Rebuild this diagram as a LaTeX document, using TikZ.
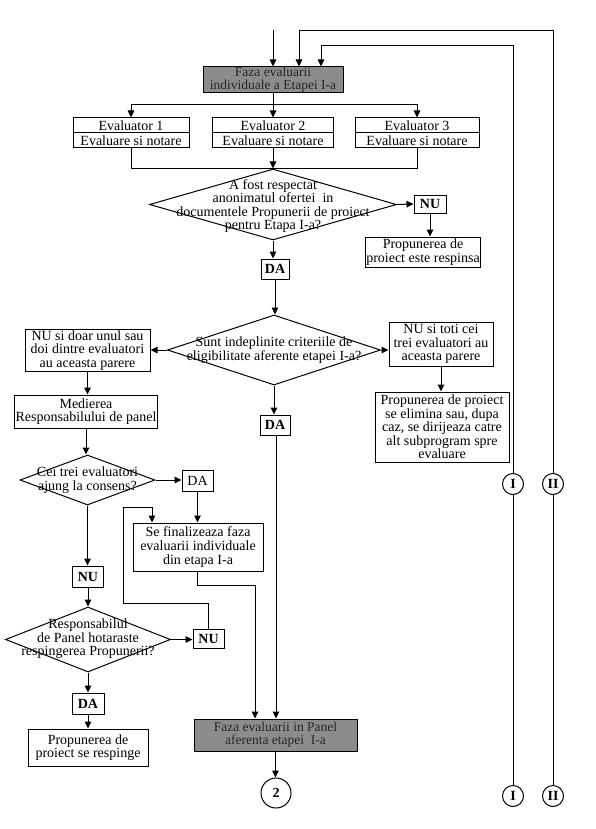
\documentclass[tikz,border=0pt]{standalone}
\usepackage{fontspec}
\setmainfont{Liberation Serif}
\usetikzlibrary{shapes.geometric,arrows.meta}
\newcommand\myfs{\fontsize{14}{13.6}\selectfont}
\tikzset{
  box/.style={draw, line width=1pt, inner sep=1pt, align=center, font=\myfs},
  yn/.style={box, font=\myfs\bfseries},
  gbox/.style={box, fill=black!45, text=black!85, inner sep=0pt, font=\fontsize{13.5}{13}\selectfont},
  dia/.style={draw, diamond, inner sep=0pt, line width=1pt},
  dtext/.style={align=center, font=\myfs, inner sep=0pt},
  circ/.style={draw, circle, line width=1pt, font=\myfs\bfseries, inner sep=0pt},
  arr/.style={-{Triangle[length=7pt,width=6.5pt]}, line width=1pt},
  ln/.style={line width=1pt}
}
\begin{document}
\begin{tikzpicture}[x=1pt,y=-1pt]
\useasboundingbox (0,0) rectangle (595,829);
% top
\coordinate (t0) at (273,30);
\node[gbox, minimum width=140pt, minimum height=26pt] (f1) at (273,80) {Faza evaluarii\\individuale a Etapei I-a};
% evaluators
\node[box, minimum width=116pt, minimum height=15pt, inner sep=0pt] (e1a) at (131,125.5) {Evaluator 1};
\node[box, minimum width=116pt, minimum height=15pt, inner sep=0pt] (e1b) at (131,140.5) {Evaluare si notare};
\node[box, minimum width=121pt, minimum height=15pt, inner sep=0pt] (e2a) at (273,125.5) {Evaluator 2};
\node[box, minimum width=121pt, minimum height=15pt, inner sep=0pt] (e2b) at (273,140.5) {Evaluare si notare};
\node[box, minimum width=124pt, minimum height=15pt, inner sep=0pt] (e3a) at (417,125.5) {Evaluator 3};
\node[box, minimum width=124pt, minimum height=15pt, inner sep=0pt] (e3b) at (417,140.5) {Evaluare si notare};
% decision 1
\node[dia, minimum width=247pt, minimum height=71pt] (d1) at (273,204.5) {};
\node[dtext] (d1t) at (273,206) {A fost respectat\\anonimatul ofertei\ \ in\\documentele Propunerii de proiect\\pentru Etapa I-a?};
\node[yn, minimum width=32pt, minimum height=18pt] (nu1) at (430,204) {NU};
\node[box, minimum width=110pt, minimum height=30pt] (r1) at (423,252) {Propunerea de\\proiect este respinsa};
\node[yn, minimum width=28pt, minimum height=20pt] (da1) at (275,269) {DA};
% decision 2
\node[dia, minimum width=213pt, minimum height=70pt] (d2) at (274,350) {};
\node[dtext] (d2t) at (274,350) {Sunt indeplinite criteriile de\\eligibilitate aferente etapei I-a?};
\node[box, minimum width=125pt, minimum height=41pt] (l1) at (87.5,350.5) {NU si doar unul sau\\doi dintre evaluatori\\au aceasta parere};
\node[box, minimum width=104pt, minimum height=44pt] (r2) at (441,344) {NU si toti cei\\trei evaluatori au\\aceasta parere};
\node[box, minimum width=134pt, minimum height=70pt] (r3) at (442,427) {Propunerea de proiect\\se elimina sau, dupa\\caz, se dirijeaza catre\\alt subprogram spre\\evaluare};
\node[yn, minimum width=30pt, minimum height=20pt] (da2) at (275,425) {DA};
\node[box, minimum width=142pt, minimum height=33pt] (med) at (86,411.5) {Medierea\\Responsabilului de panel};
% decision 3
\node[dia, minimum width=135pt, minimum height=50pt] (d3) at (87.5,480) {};
\node[dtext] (d3t) at (87.5,480) {Cei trei evaluatori\\ajung la consens?};
\node[box, minimum width=31pt, minimum height=21pt] (da3) at (197.5,480.5) {DA};
\node[box, minimum width=130pt, minimum height=48pt] (fin) at (198,547) {Se finalizeaza faza\\evaluarii individuale\\din etapa I-a};
\node[yn, minimum width=31pt, minimum height=21pt] (nu3) at (88,576.5) {NU};
% decision 4
\node[dia, minimum width=165pt, minimum height=65pt] (d4) at (88,639.5) {};
\node[dtext] (d4t) at (88,639) {Responsabilul\\de Panel hotaraste\\respingerea Propunerii?};
\node[yn, minimum width=31pt, minimum height=19pt] (nu4) at (208.5,638.5) {NU};
\node[yn, minimum width=32pt, minimum height=21pt] (da4) at (88,703.5) {DA};
\node[box, minimum width=120pt, minimum height=37pt] (rej) at (88,747.5) {Propunerea de\\proiect se respinge};
% panel
\node[gbox, minimum width=163pt, minimum height=32pt] (pan) at (275.5,735) {Faza evaluarii in Panel\\aferenta etapei\ \ I-a};
\node[circ, minimum size=30pt] (c2) at (276,793) {2};
% connectors I, II
\node[circ, minimum size=21pt] (ia) at (513,484) {I};
\node[circ, minimum size=21pt] (iia) at (553,484) {II};
\node[circ, minimum size=21pt] (ib) at (513,796) {I};
\node[circ, minimum size=21pt] (iib) at (553,796) {II};
% auxiliary corners
\coordinate (k1) at (123,603);
\coordinate (k2) at (123,507);
\coordinate (k3) at (255,585);
% ---- connectors
\draw[arr] (t0) -- (f1.north);
\draw[ln] (ib.north) -- (ia.south);
\draw[ln] (iib.north) -- (iia.south);
\draw[arr] (ia.north) |- ([xshift=48pt,yshift=21pt]f1.north) -- ([xshift=48pt]f1.north);
\draw[arr] (iia.north) |- ([xshift=26pt,yshift=36pt]f1.north) -- ([xshift=26pt]f1.north);
\draw[arr] (f1.south) -- (e2a.north);
\draw[arr] (f1.south) -- ++(0,11) -| (e1a.north);
\draw[arr] (f1.south) -- ++(0,11) -| (e3a.north);
\draw[ln] (e1b.south) |- (d1.north);
\draw[ln] (e3b.south) |- (d1.north);
\draw[arr] (e2b.south) -- (d1.north);
\draw[arr] (d1.east) -- (nu1.west);
\draw[arr] (nu1.south) -- (nu1.south |- r1.north);
\draw[arr] (d1.south) -- (d1.south |- da1.north);
\draw[arr] (da1.south) -- (da1.south |- d2.north);
\draw[arr] (d2.west) -- (d2.west -| l1.east);
\draw[arr] (d2.east) -- (d2.east -| r2.west);
\draw[arr] (r2.south) -- (r2.south |- r3.north);
\draw[arr] (d2.south) -- (d2.south |- da2.north);
\draw[arr] ([xshift=1pt]da2.south) -- ([xshift=1pt]da2.south |- pan.north);
\draw[arr] (l1.south) -- (l1.south |- med.north);
\draw[arr] (med.south) -- (med.south |- d3.north);
\draw[arr] (d3.east) -- (d3.east -| da3.west);
\draw[arr] (da3.south) -- (da3.south |- fin.north);
\draw[arr] (d3.south) -- (d3.south |- nu3.north);
\draw[arr] (nu3.south) -- (nu3.south |- d4.north);
\draw[arr] (d4.east) -- (d4.east -| nu4.west);
\draw[arr] (d4.south) -- (d4.south |- da4.north);
\draw[arr] (da4.south) -- (da4.south |- rej.north);
\draw[arr] (nu4.north) |- (k1) -- (k2) -| ([xshift=-46pt]fin.north);
\draw[arr] ([xshift=-1pt]fin.south) |- (k3) -- (k3 |- pan.north);
\draw[arr] (pan.south) -- (pan.south |- c2.north);
\end{tikzpicture}
\end{document}
